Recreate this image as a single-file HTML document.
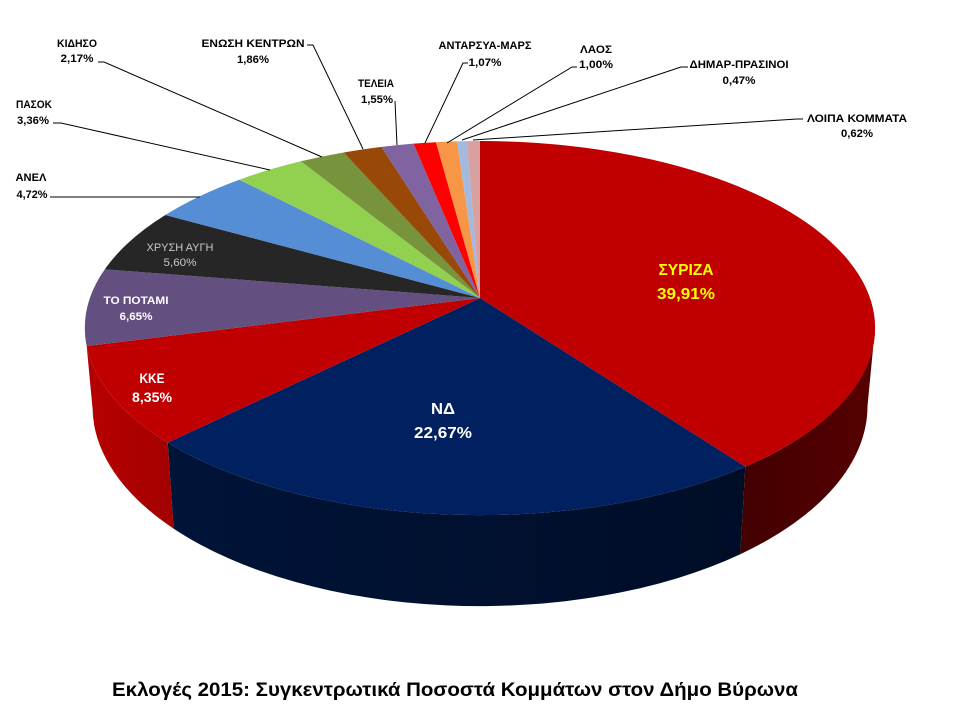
<!DOCTYPE html>
<html>
<head>
<meta charset="utf-8">
<style>
html,body{margin:0;padding:0;background:#fff;}
svg{display:block;}
text{font-family:"Liberation Sans","DejaVu Sans",sans-serif;font-weight:bold;}
</style>
</head>
<body>
<svg width="960" height="720" viewBox="0 0 960 720" xmlns="http://www.w3.org/2000/svg">
<defs>
<linearGradient id="gSy" gradientUnits="userSpaceOnUse" x1="740" y1="0" x2="876" y2="0">
<stop offset="0" stop-color="#420000"/><stop offset="1" stop-color="#560000"/>
</linearGradient>
<linearGradient id="gNd" gradientUnits="userSpaceOnUse" x1="168" y1="0" x2="745" y2="0">
<stop offset="0" stop-color="#001438"/><stop offset="1" stop-color="#000d27"/>
</linearGradient>
<linearGradient id="gKk" gradientUnits="userSpaceOnUse" x1="85" y1="0" x2="175" y2="0">
<stop offset="0" stop-color="#b80000"/><stop offset="1" stop-color="#a20000"/>
</linearGradient>
</defs>
<rect width="960" height="720" fill="#fff"/>

<!-- side faces -->
<path d="M875,328 A395,187 0 0 1 745.3,466.6 L740.3,554.2 A387.5,200 0 0 0 867.5,406 Z" fill="url(#gSy)"/>
<path d="M745.3,466.6 A395,187 0 0 1 167.7,442.6 L173.6,528.6 A387.5,200 0 0 0 740.3,554.2 Z" fill="url(#gNd)"/>
<path d="M167.7,442.6 A395,187 0 0 1 86.7,346 L94.2,425.5 A387.5,200 0 0 0 173.6,528.6 Z" fill="url(#gKk)"/>
<path d="M86.7,346 A395,187 0 0 1 85,328 L92.5,406 A387.5,200 0 0 0 94.2,425.5 Z" fill="#3e2f50"/>

<!-- top faces -->
<path d="M480,298 L480,141 A395,187 0 0 1 745.3,466.6 Z" fill="#c00000"/>
<path d="M480,298 L745.3,466.6 A395,187 0 0 1 167.7,442.6 Z" fill="#002060"/>
<path d="M480,298 L167.7,442.6 A395,187 0 0 1 86.7,346 Z" fill="#c00000"/>
<path d="M480,298 L86.7,346 A395,187 0 0 1 104.8,269.3 Z" fill="#634f80"/>
<path d="M480,298 L104.8,269.3 A395,187 0 0 1 165.3,215 Z" fill="#262626"/>
<path d="M480,298 L165.3,215 A395,187 0 0 1 239.3,179.7 Z" fill="#558ed5"/>
<path d="M480,298 L239.3,179.7 A395,187 0 0 1 300.9,161.3 Z" fill="#92d050"/>
<path d="M480,298 L300.9,161.3 A395,187 0 0 1 343.6,152.5 Z" fill="#77933c"/>
<path d="M480,298 L343.6,152.5 A395,187 0 0 1 381.4,146.9 Z" fill="#984807"/>
<path d="M480,298 L381.4,146.9 A395,187 0 0 1 413.5,143.6 Z" fill="#8064a2"/>
<path d="M480,298 L413.5,143.6 A395,187 0 0 1 436,142.2 Z" fill="#ff0000"/>
<path d="M480,298 L436,142.2 A395,187 0 0 1 457,141.3 Z" fill="#f79646"/>
<path d="M480,298 L457,141.3 A395,187 0 0 1 466.9,141.1 Z" fill="#a3bade"/>
<path d="M480,298 L466.9,141.1 A395,187 0 0 1 480,141 Z" fill="#d9a0a0"/>

<!-- leader lines -->
<g stroke="#000" stroke-width="1" fill="none">
<polyline points="98,62 104,62 322,157"/>
<polyline points="53,123 61,123 270,170"/>
<polyline points="50,197 200,197"/>
<polyline points="307,45 313,45 363,149"/>
<polyline points="395,101 397,145"/>
<polyline points="468,63 463,63 425,143"/>
<polyline points="577,67 572,67 447,143"/>
<polyline points="688,67 681,67 462,140"/>
<polyline points="803,119 797,119 473,140"/>
</g>

<!-- external labels -->
<g font-size="11" fill="#000" text-anchor="middle">
<text x="77" y="47" textLength="40" lengthAdjust="spacingAndGlyphs">ΚΙΔΗΣΟ</text>
<text x="77" y="62" textLength="33" lengthAdjust="spacingAndGlyphs">2,17%</text>
<text x="34" y="108" textLength="36" lengthAdjust="spacingAndGlyphs">ΠΑΣΟΚ</text>
<text x="33" y="124" textLength="32" lengthAdjust="spacingAndGlyphs">3,36%</text>
<text x="31" y="181" textLength="31" lengthAdjust="spacingAndGlyphs">ΑΝΕΛ</text>
<text x="32" y="198" textLength="31" lengthAdjust="spacingAndGlyphs">4,72%</text>
<text x="253" y="47" textLength="103" lengthAdjust="spacingAndGlyphs">ΕΝΩΣΗ ΚΕΝΤΡΩΝ</text>
<text x="253" y="63" textLength="32" lengthAdjust="spacingAndGlyphs">1,86%</text>
<text x="376" y="87" textLength="36" lengthAdjust="spacingAndGlyphs">ΤΕΛΕΙΑ</text>
<text x="377" y="103" textLength="32" lengthAdjust="spacingAndGlyphs">1,55%</text>
<text x="485" y="49" textLength="93" lengthAdjust="spacingAndGlyphs">ΑΝΤΑΡΣΥΑ-ΜΑΡΣ</text>
<text x="485" y="66" textLength="33" lengthAdjust="spacingAndGlyphs">1,07%</text>
<text x="596" y="53" textLength="32" lengthAdjust="spacingAndGlyphs">ΛΑΟΣ</text>
<text x="596" y="68" textLength="34" lengthAdjust="spacingAndGlyphs">1,00%</text>
<text x="739" y="68" textLength="99" lengthAdjust="spacingAndGlyphs">ΔΗΜΑΡ-ΠΡΑΣΙΝΟΙ</text>
<text x="739" y="84" textLength="33" lengthAdjust="spacingAndGlyphs">0,47%</text>
<text x="857" y="122" textLength="100" lengthAdjust="spacingAndGlyphs">ΛΟΙΠΑ ΚΟΜΜΑΤΑ</text>
<text x="857" y="137" textLength="32" lengthAdjust="spacingAndGlyphs">0,62%</text>
</g>

<!-- internal labels -->
<g text-anchor="middle">
<text x="686" y="275" font-size="16" fill="#ffff00" textLength="55" lengthAdjust="spacingAndGlyphs">ΣΥΡΙΖΑ</text>
<text x="686" y="299" font-size="16" fill="#ffff00" textLength="58" lengthAdjust="spacingAndGlyphs">39,91%</text>
<text x="443" y="414" font-size="16" fill="#ffffff" textLength="24" lengthAdjust="spacingAndGlyphs">ΝΔ</text>
<text x="443" y="438" font-size="16" fill="#ffffff" textLength="58" lengthAdjust="spacingAndGlyphs">22,67%</text>
<text x="152" y="383" font-size="14" fill="#ffffff" textLength="25" lengthAdjust="spacingAndGlyphs">ΚΚΕ</text>
<text x="152" y="402" font-size="14" fill="#ffffff" textLength="40" lengthAdjust="spacingAndGlyphs">8,35%</text>
<text x="136" y="304" font-size="11" fill="#ffffff" textLength="65" lengthAdjust="spacingAndGlyphs">ΤΟ ΠΟΤΑΜΙ</text>
<text x="136" y="320" font-size="11" fill="#ffffff" textLength="33" lengthAdjust="spacingAndGlyphs">6,65%</text>
<text x="180" y="251" font-size="11" fill="#c8c8c8" font-weight="normal" style="font-weight:normal" textLength="67" lengthAdjust="spacingAndGlyphs">ΧΡΥΣΗ ΑΥΓΗ</text>
<text x="180" y="266" font-size="11" fill="#c8c8c8" style="font-weight:normal" textLength="33" lengthAdjust="spacingAndGlyphs">5,60%</text>
</g>

<!-- title -->
<text x="455" y="696" font-size="19" fill="#000" text-anchor="middle" textLength="686" lengthAdjust="spacingAndGlyphs">Εκλογές 2015: Συγκεντρωτικά Ποσοστά Κομμάτων στον Δήμο Βύρωνα</text>
</svg>
</body>
</html>
